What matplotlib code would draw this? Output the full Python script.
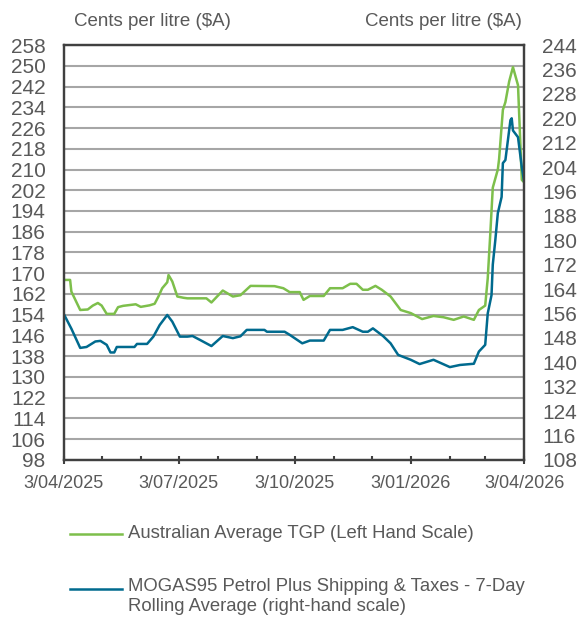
import pandas as pd
import matplotlib
matplotlib.use("Agg")
import matplotlib.pyplot as plt
import matplotlib.dates as mdates
from matplotlib.lines import Line2D
from matplotlib.ticker import FuncFormatter

plt.rcParams['font.family'] = ['Liberation Sans', 'DejaVu Sans']

# Australian Average TGP, c/L (left hand scale)
tgp_dates = ['2025-04-03', '2025-04-08', '2025-04-09', '2025-04-16', '2025-04-22',
             '2025-04-26', '2025-04-30', '2025-05-03', '2025-05-07', '2025-05-13',
             '2025-05-16', '2025-05-20', '2025-05-30', '2025-06-03', '2025-06-10',
             '2025-06-14', '2025-06-17', '2025-06-20', '2025-06-24', '2025-06-25',
             '2025-06-28', '2025-07-02', '2025-07-07', '2025-07-10', '2025-07-25',
             '2025-07-29', '2025-08-07', '2025-08-15', '2025-08-21', '2025-08-29',
             '2025-09-17', '2025-09-24', '2025-09-29', '2025-10-07', '2025-10-10',
             '2025-10-15', '2025-10-26', '2025-10-31', '2025-11-10', '2025-11-16',
             '2025-11-21', '2025-11-26', '2025-11-30', '2025-12-06', '2025-12-11',
             '2025-12-18', '2025-12-26', '2026-01-03', '2026-01-12', '2026-01-21',
             '2026-01-29', '2026-02-06', '2026-02-14', '2026-02-22', '2026-02-26',
             '2026-03-03', '2026-03-05', '2026-03-07', '2026-03-09', '2026-03-13',
             '2026-03-14', '2026-03-17', '2026-03-19', '2026-03-22', '2026-03-25',
             '2026-03-29', '2026-04-01', '2026-04-03']
tgp_values = [167.4, 167.4, 162.9, 155.8, 156.0,
              157.5, 158.5, 157.5, 154.3, 154.3,
              156.9, 157.4, 158.0, 157.0, 157.6,
              158.2, 161.0, 164.2, 166.5, 169.3,
              166.8, 161.0, 160.5, 160.3, 160.3,
              158.7, 163.3, 161.0, 161.5, 165.1,
              165.0, 164.2, 162.7, 162.7, 159.7,
              161.2, 161.2, 164.2, 164.2, 165.9,
              165.9, 163.6, 163.6, 165.1, 163.6,
              161.0, 155.8, 154.6, 152.3, 153.5,
              153.0, 152.0, 153.3, 152.0, 155.8,
              157.5, 168.0, 185.0, 203.0, 210.0,
              214.0, 233.0, 236.0, 244.0, 249.5,
              242.5, 206.0, 205.0]

# MOGAS95 plus shipping & taxes, 7-day rolling average, c/L (right hand scale)
mogas_dates = ['2025-04-03', '2025-04-09', '2025-04-16', '2025-04-21', '2025-04-28',
               '2025-05-02', '2025-05-07', '2025-05-10', '2025-05-13', '2025-05-15',
               '2025-05-29', '2025-05-31', '2025-06-08', '2025-06-13', '2025-06-18',
               '2025-06-24', '2025-06-28', '2025-07-04', '2025-07-10', '2025-07-14',
               '2025-07-20', '2025-07-29', '2025-08-07', '2025-08-15', '2025-08-21',
               '2025-08-26', '2025-09-09', '2025-09-11', '2025-09-25', '2025-09-29',
               '2025-10-09', '2025-10-15', '2025-10-26', '2025-10-31', '2025-11-10',
               '2025-11-18', '2025-11-26', '2025-11-30', '2025-12-04', '2025-12-12',
               '2025-12-18', '2025-12-24', '2026-01-03', '2026-01-10', '2026-01-21',
               '2026-02-03', '2026-02-11', '2026-02-22', '2026-02-26', '2026-03-03',
               '2026-03-05', '2026-03-08', '2026-03-09', '2026-03-11', '2026-03-13',
               '2026-03-16', '2026-03-17', '2026-03-19', '2026-03-23', '2026-03-24',
               '2026-03-25', '2026-03-29', '2026-04-01', '2026-04-03']
mogas_values = [155.8, 151.0, 144.7, 145.0, 146.8,
                147.0, 145.7, 143.2, 143.2, 145.0,
                145.0, 146.0, 146.0, 148.4, 152.2,
                155.5, 153.3, 148.4, 148.4, 148.6,
                147.3, 145.3, 148.6, 147.9, 148.5,
                150.6, 150.6, 150.0, 150.0, 149.0,
                146.2, 147.1, 147.1, 150.6, 150.6,
                151.5, 150.0, 150.0, 151.1, 148.6,
                146.2, 142.4, 140.8, 139.4, 140.8,
                138.4, 139.1, 139.5, 143.5, 145.7,
                156.0, 162.0, 172.0, 180.0, 188.9,
                194.2, 205.3, 206.3, 219.4, 220.0,
                216.0, 213.8, 204.0, 198.8]

left_ticks = list(range(98, 259, 8))
right_ticks = list(range(108, 245, 8))

green = '#7dbf4b'
blue = '#006a8e'
grey_text = '#595959'
spine_col = '#404040'

fig = plt.figure(figsize=(5.8, 6.18), dpi=100)
ax = fig.add_axes([0.110, 0.256, 0.794, 0.671])
ax2 = ax.twinx()

ax.plot(pd.to_datetime(tgp_dates), tgp_values, color=green, lw=1.8)
ax2.plot(pd.to_datetime(mogas_dates), mogas_values, color=blue, lw=1.8)

ax.set_xlim(pd.Timestamp('2025-04-03'), pd.Timestamp('2026-04-03'))
ax.set_ylim(98, 258)
ax2.set_ylim(108, 244)
ax.set_yticks(left_ticks)
ax2.set_yticks(right_ticks)

ax.yaxis.grid(True, color='#a6a6a6', lw=1.5)
ax.set_axisbelow(True)

ax.xaxis.set_major_locator(mdates.MonthLocator(bymonth=[1, 4, 7, 10], bymonthday=3))
ax.xaxis.set_minor_locator(mdates.MonthLocator(bymonthday=3))
ax.xaxis.set_major_formatter(FuncFormatter(
    lambda v, p: f"{mdates.num2date(v).day}/{mdates.num2date(v):%m/%Y}"))

ax.tick_params(axis='x', which='major', direction='inout', length=6, width=1.5,
               color=spine_col, labelsize=13, labelcolor=grey_text, pad=8)
ax.tick_params(axis='x', which='minor', direction='in', length=3, width=1.5,
               color=spine_col)
ax.tick_params(axis='y', length=0, labelsize=15, labelcolor=grey_text, pad=13)
ax2.tick_params(axis='y', length=0, labelsize=15, labelcolor=grey_text, pad=13)

for a in (ax, ax2):
    for s in a.spines.values():
        s.set_color(spine_col)
        s.set_linewidth(1.6)

fig.text(152 / 580, 1 - 22 / 618, 'Cents per litre ($A)', ha='center', va='center',
         fontsize=13.5, color=grey_text)
fig.text(443 / 580, 1 - 22 / 618, 'Cents per litre ($A)', ha='center', va='center',
         fontsize=13.5, color=grey_text)

# legend drawn by hand below the chart
fig.add_artist(Line2D([70 / 580, 122 / 580], [1 - 534 / 618] * 2, color=green, lw=1.8))
fig.text(128 / 580, 1 - 534 / 618, 'Australian Average TGP (Left Hand Scale)',
         ha='left', va='center', fontsize=13.3, color=grey_text)
fig.add_artist(Line2D([70 / 580, 122 / 580], [1 - 589 / 618] * 2, color=blue, lw=1.8))
fig.text(128 / 580, 1 - 578 / 618,
         'MOGAS95 Petrol Plus Shipping & Taxes - 7-Day\nRolling Average (right-hand scale)',
         ha='left', va='top', fontsize=13.3, color=grey_text, linespacing=1.25)

fig.savefig('out.png', dpi=100)
